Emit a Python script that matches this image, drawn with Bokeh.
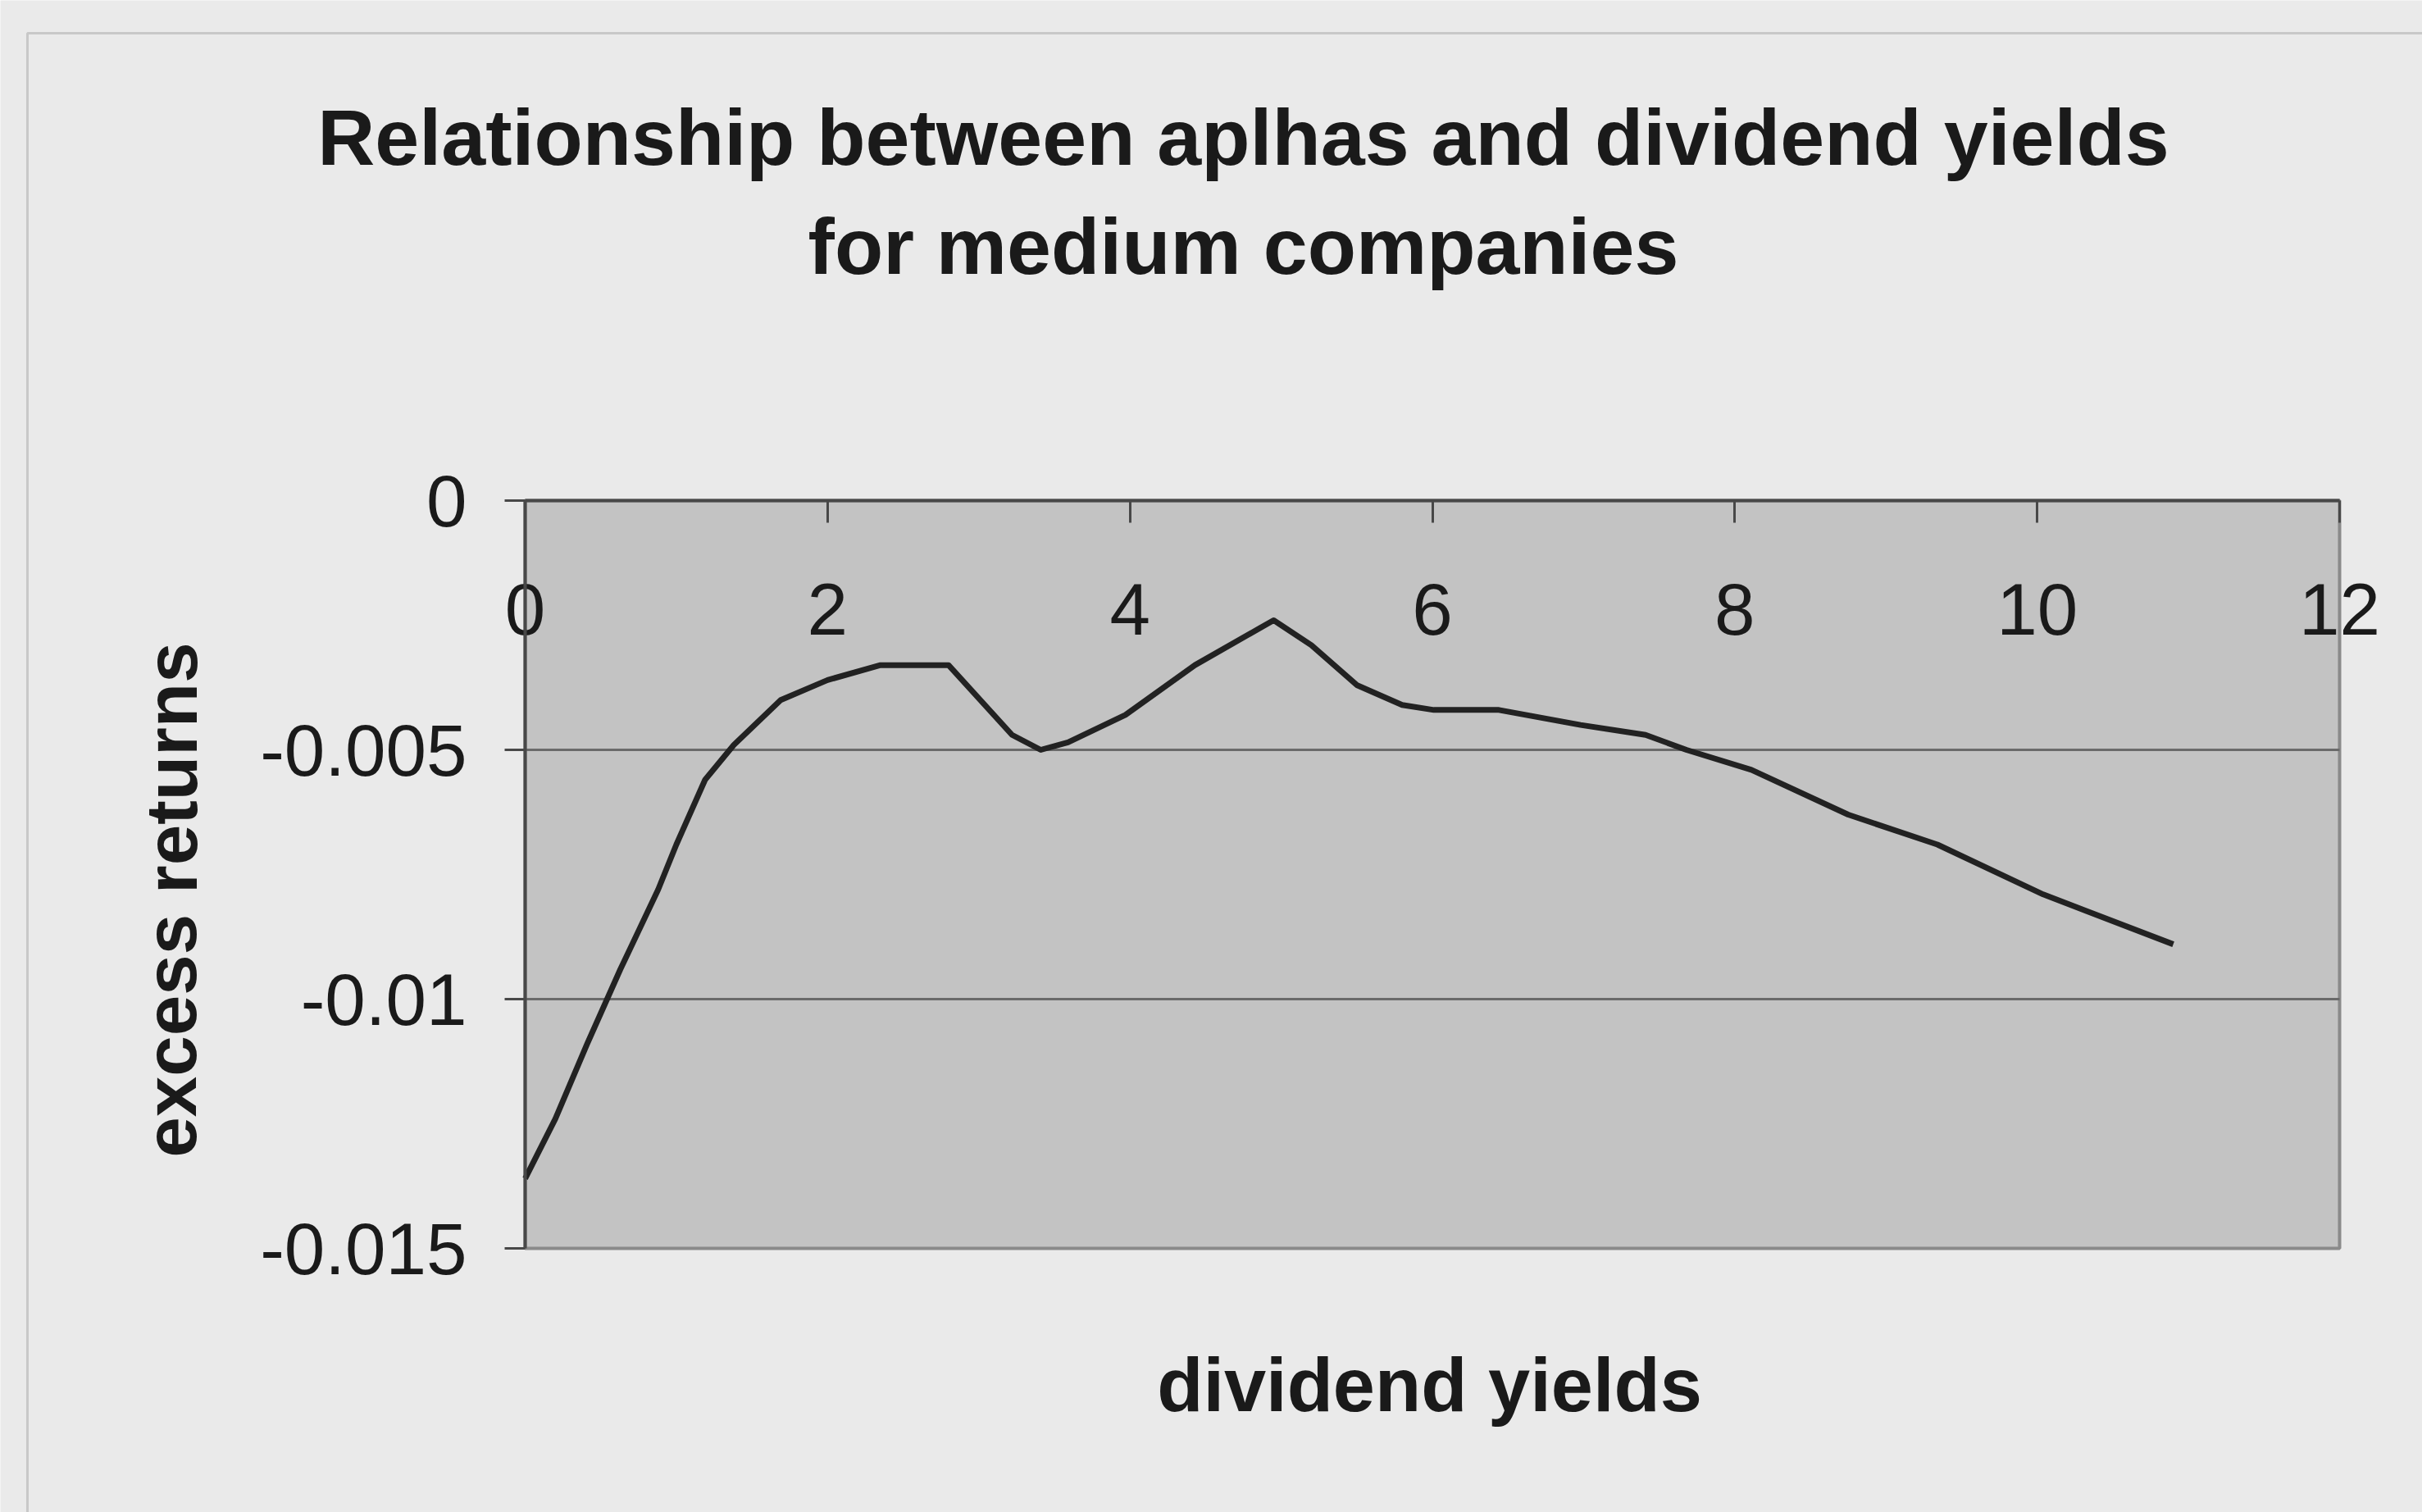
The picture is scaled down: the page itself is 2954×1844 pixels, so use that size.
from bokeh.plotting import figure
from bokeh.models import (Range1d, LinearAxis, FixedTicker, CustomJSTickFormatter,
                          Label, BoxAnnotation)
from bokeh.embed import file_html
from bokeh.resources import INLINE

# dividend yield (%) against the average alpha / excess return
dividend_yield = [0.0, 0.2, 0.41, 0.63, 0.88, 1.0, 1.19, 1.38, 1.69, 2.0, 2.35, 2.8,
                  3.22, 3.41, 3.59, 3.97, 4.43, 4.95, 5.2, 5.5, 5.8, 6.01, 6.44,
                  6.98, 7.41, 7.68, 8.11, 8.75, 9.34, 10.04, 10.9]
excess_return = [-0.0136, -0.0124, -0.0109, -0.0094, -0.0078, -0.0069, -0.0056,
                 -0.0049, -0.0040, -0.0036, -0.0033, -0.0033, -0.0047, -0.0050,
                 -0.00485, -0.0043, -0.0033, -0.0024, -0.0029, -0.0037, -0.0041,
                 -0.0042, -0.0042, -0.0045, -0.0047, -0.0050, -0.0054, -0.0063,
                 -0.0069, -0.0079, -0.0089]

x_ticks = [0, 2, 4, 6, 8, 10, 12]
y_ticks = [-0.015, -0.01, -0.005, 0]

title_lines = ["Relationship between aplhas and dividend yields", "for medium companies"]
x_title = "dividend yields"
y_title = "excess returns"

FONT = "Liberation Sans"
PAGE_BG = "#eaeaea"
PLOT_BG = "#c3c3c3"
INK = "#1a1a1a"
AXIS = "#484848"

# page size and where the plot area sits on it (pixels)
W, H = 2954, 1844
PLOT_L, PLOT_R, PLOT_T, PLOT_B = 640, 2853, 610, 1522

# the frame covers the whole page; ranges are padded so the plot area lands in place
x_scale = (PLOT_R - PLOT_L) / (x_ticks[-1] - x_ticks[0])
y_scale = (PLOT_B - PLOT_T) / (y_ticks[-1] - y_ticks[0])
x_start = x_ticks[0] - PLOT_L / x_scale
x_end = x_ticks[-1] + (W - PLOT_R) / x_scale
y_end = y_ticks[-1] + PLOT_T / y_scale
y_start = y_ticks[0] - (H - PLOT_B) / y_scale


def px_x(px):
    return x_start + px / x_scale


def px_y(py):
    return y_end - py / y_scale


p = figure(width=W, height=H, output_backend="svg", toolbar_location=None,
           x_range=Range1d(x_start, x_end), y_range=Range1d(y_start, y_end),
           x_axis_location=None, y_axis_location=None,
           min_border=0, min_border_left=0, min_border_right=0,
           min_border_top=0, min_border_bottom=0)
p.border_fill_color = PAGE_BG
p.background_fill_color = PAGE_BG
p.outline_line_color = None
p.xgrid.visible = False
p.ygrid.visible = False

# chart area border
p.add_layout(BoxAnnotation(left=px_x(33), right=px_x(W + 50), top=px_y(40), bottom=px_y(H + 50),
                           fill_alpha=0, line_color="#7a7a7a", line_width=3))

# grey plot area with its light border
p.quad(left=x_ticks[0], right=x_ticks[-1], bottom=y_ticks[0], top=y_ticks[-1],
       fill_color=PLOT_BG, line_color="#8a8a8a", line_width=4)

# horizontal gridlines
inner = y_ticks[1:-1]
p.segment(x0=[x_ticks[0]] * len(inner), x1=[x_ticks[-1]] * len(inner), y0=inner, y1=inner,
          line_color="#6a6a6a", line_width=3)

p.line(dividend_yield, excess_return, line_color="#222222", line_width=7,
       line_join="round")

# y axis at x = 0, ticks pointing outwards
yax = LinearAxis(fixed_location=x_ticks[0], bounds=(y_ticks[0], y_ticks[-1]),
                 ticker=FixedTicker(ticks=y_ticks),
                 formatter=CustomJSTickFormatter(code="return String(Math.round(tick * 1000) / 1000);"))
# x axis crossing at y = 0 (top of the plot area), labels hang inside
xax = LinearAxis(fixed_location=y_ticks[-1], bounds=(x_ticks[0], x_ticks[-1]),
                 ticker=FixedTicker(ticks=x_ticks))
for ax, tick_len, standoff in ((yax, 25, 46), (xax, 27, 74)):
    ax.axis_line_color = AXIS
    ax.axis_line_width = 4
    ax.major_tick_line_color = AXIS
    ax.major_tick_line_width = 3
    ax.major_tick_out = tick_len
    ax.major_tick_in = 0
    ax.minor_tick_out = 0
    ax.minor_tick_in = 0
    ax.major_label_text_font = FONT
    ax.major_label_text_font_size = "89px"
    ax.major_label_text_color = INK
    ax.major_label_standoff = standoff
p.add_layout(yax, "left")
p.add_layout(xax, "below")

# titles
def add_text(text, x, y, size, angle=0.0):
    p.add_layout(Label(x=px_x(x), y=px_y(y), text=text, angle=angle,
                       text_align="center", text_baseline="alphabetic",
                       text_font=FONT, text_font_style="bold", text_font_size=size,
                       text_color=INK))


add_text(title_lines[0], 1516, 167, "97px")
add_text(title_lines[1], 1516, 300, "97px")
add_text(x_title, 1743, 1688, "92px")
add_text(y_title, 208, 1097, "89px", angle=1.5707963)

open("out.html", "w").write(file_html(p, INLINE))
